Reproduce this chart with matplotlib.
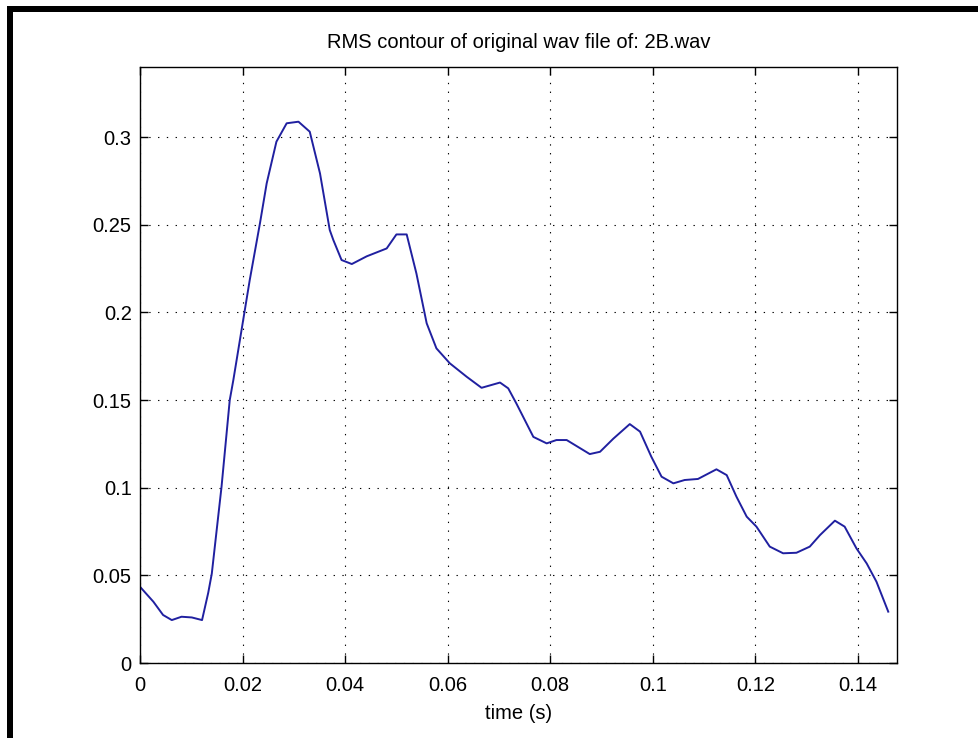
import matplotlib
matplotlib.use("Agg")
import matplotlib.pyplot as plt
from matplotlib.patches import Rectangle

plt.rcParams['font.family'] = ['Liberation Sans', 'DejaVu Sans']

title = "RMS contour of original wav file of: 2B.wav"
xlabel = "time (s)"

time_s = [0.0, 0.0026, 0.0045, 0.0062, 0.0081, 0.0101, 0.0121, 0.0133, 0.0140,
          0.0159, 0.0175, 0.0182, 0.0214, 0.0234, 0.0247, 0.0266, 0.0286, 0.0309,
          0.0331, 0.0351, 0.0360, 0.0370, 0.0377, 0.0393, 0.0413, 0.0442, 0.0481,
          0.0500, 0.0520, 0.0539, 0.0559, 0.0578, 0.0604, 0.0637, 0.0666, 0.0702,
          0.0718, 0.0734, 0.0767, 0.0793, 0.0812, 0.0832, 0.0877, 0.0897, 0.0923,
          0.0955, 0.0975, 0.0997, 0.1017, 0.1040, 0.1062, 0.1088, 0.1124, 0.1144,
          0.1163, 0.1183, 0.1202, 0.1228, 0.1254, 0.1280, 0.1306, 0.1326, 0.1355,
          0.1374, 0.1397, 0.1417, 0.1436, 0.1459]
rms = [0.0435, 0.0350, 0.0274, 0.0245, 0.0264, 0.0260, 0.0245, 0.0400, 0.0510,
       0.1006, 0.1500, 0.1614, 0.2185, 0.2510, 0.2736, 0.2974, 0.3079, 0.3088,
       0.3031, 0.2793, 0.2640, 0.2470, 0.2413, 0.2299, 0.2276, 0.2320, 0.2365,
       0.2445, 0.2445, 0.2222, 0.1938, 0.1795, 0.1710, 0.1633, 0.1570, 0.1600,
       0.1567, 0.1480, 0.1290, 0.1253, 0.1272, 0.1272, 0.1192, 0.1205, 0.1280,
       0.1363, 0.1320, 0.1177, 0.1063, 0.1025, 0.1044, 0.1050, 0.1105, 0.1072,
       0.0949, 0.0835, 0.0778, 0.0664, 0.0626, 0.0629, 0.0664, 0.0730, 0.0812,
       0.0778, 0.0654, 0.0568, 0.0464, 0.0293]

xticks = [0, 0.02, 0.04, 0.06, 0.08, 0.1, 0.12, 0.14]
xticklabels = ["0", "0.02", "0.04", "0.06", "0.08", "0.1", "0.12", "0.14"]
yticks = [0, 0.05, 0.1, 0.15, 0.2, 0.25, 0.3]
yticklabels = ["0", "0.05", "0.1", "0.15", "0.2", "0.25", "0.3"]

fig = plt.figure(figsize=(9.79, 7.38), dpi=100, facecolor='white')
ax = fig.add_axes([0.1430, 0.1016, 0.7732, 0.8076])

ax.plot(time_s, rms, color='#2020a0', lw=1.4)

ax.set_xlim(0, 0.1476)
ax.set_ylim(0, 0.34)
ax.set_xticks(xticks)
ax.set_xticklabels(xticklabels)
ax.set_yticks(yticks)
ax.set_yticklabels(yticklabels)

ax.grid(True, color='black', linestyle=(0, (1.2, 6.7)), lw=0.8)
ax.tick_params(direction='in', length=6, width=1.0, top=True, right=True,
               labelsize=14.5, colors='black')
ax.tick_params(axis='x', pad=9)
ax.tick_params(axis='y', pad=6)
for s in ax.spines.values():
    s.set_linewidth(1.0)
    s.set_color('black')

ax.set_title(title, fontsize=14.5, pad=14)
ax.set_xlabel(xlabel, fontsize=14.5, labelpad=7)

# black frame decoration (top and left)
fig.add_artist(Rectangle((7 / 979, 726 / 738), 972 / 979, 6 / 738,
                         transform=fig.transFigure, color='black', lw=0))
fig.add_artist(Rectangle((7 / 979, 0), 6 / 979, 732 / 738,
                         transform=fig.transFigure, color='black', lw=0))

fig.savefig("out.png", dpi=100, facecolor='white')
